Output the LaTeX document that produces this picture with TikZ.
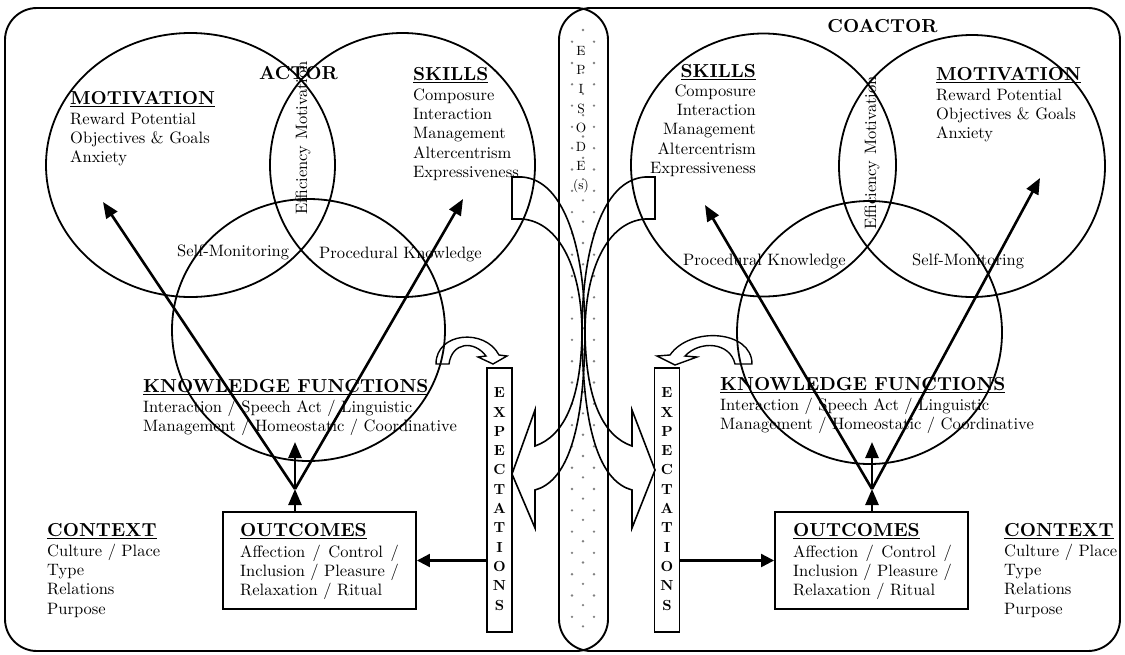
\documentclass[tikz,border=0pt]{standalone}
\usepackage{fontspec}
\setmainfont{lmroman10-regular.otf}[BoldFont=lmroman10-bold.otf, ItalicFont=lmroman10-italic.otf]
\usetikzlibrary{arrows.meta,shapes.geometric}

\newcommand\hdfont{\fontsize{18.8}{22}\selectfont\bfseries}
\newcommand\bdfont{\fontsize{16.5}{19.3}\selectfont}
\newcommand\lxfont{\fontsize{14.6}{19.3}\selectfont\bfseries}
\newcommand\epfont{\fontsize{13.4}{19.2}\selectfont}
\newcommand\ulhead[1]{\vtop{\hbox{#1}\kern1.4pt\hrule height 1.6pt}}
\newlength\rowwd

\begin{document}
\begin{tikzpicture}[x=1pt,y=-1pt,
  panel/.style={line width=1.9pt, rounded corners=32pt},
  ring/.style={ellipse, draw, line width=1.8pt, inner sep=0pt},
  link/.style={line width=2.6pt, -{Triangle[length=16pt,width=13pt]}},
  feed/.style={line width=2.2pt, -{Triangle[length=13pt,width=13pt]}},
  boxed/.style={draw, line width=1.9pt, inner sep=0pt},
  sweep/.style={line width=1.6pt, line join=miter},
  head/.style={inner sep=0pt, font=\hdfont, anchor=base west},
  list/.style={inner sep=0pt, font=\bdfont, align=left, anchor=north west},
  tag/.style={inner sep=0pt, font=\bdfont, anchor=base west},
  upright/.style={inner sep=0pt, font=\bdfont, rotate=90, anchor=west},
  letters/.style={boxed, line width=1.6pt, minimum width=25pt, minimum height=264pt, font=\lxfont, align=center}
]
\useasboundingbox (0,0) rectangle (1125,654);
\fill[white] (0,0) rectangle (1125,654);

% two panels; their overlap forms the episode column
\draw[panel] (5,8) rectangle (608,651);
\draw[panel] (559,8) rectangle (1120,651);

% dotted fill of the episode column
\foreach \k in {0,...,27} {
  \fill[black!50] (572,41.7+21.3*\k) circle[radius=1.3pt];
  \fill[black!50] (594,41.7+21.3*\k) circle[radius=1.3pt];
}
\foreach \k in {0,...,28} {
  \fill[black!50] (583,30+21.3*\k) circle[radius=1.3pt];
}
\node[inner sep=0pt, font=\epfont, align=center, anchor=north] (episode) at (581,41.9)
  {\strut E\\\strut P\\\strut I\\\strut S\\\strut O\\\strut D\\\strut E\\\strut (s)};

% actor circles
\node[ring, minimum width=289pt, minimum height=264pt] (lmot) at (190.5,165) {};
\node[ring, minimum width=265pt, minimum height=264pt] (lski) at (402.5,165) {};
\node[ring, minimum width=273pt, minimum height=262pt] (lkno) at (308.5,330) {};
% coactor circles
\node[ring, minimum width=265pt, minimum height=263pt] (rski) at (763.5,165) {};
\node[ring, minimum width=266pt, minimum height=262pt] (rmot) at (972,166) {};
\node[ring, minimum width=265pt, minimum height=263pt] (rkno) at (869.5,332.5) {};

% outcome boxes
\node[boxed, minimum width=193pt, minimum height=97pt] (lout) at (319.5,560.5) {};
\node[boxed, minimum width=193pt, minimum height=97pt] (rout) at (871.5,560.5) {};

% expectation columns
\node[letters] (lexp) at (499.5,500)
  {\strut E\\\strut X\\\strut P\\\strut E\\\strut C\\\strut T\\\strut A\\\strut T\\\strut I\\\strut O\\\strut N\\\strut S};
\node[letters] (rexp) at (667,500)
  {\strut E\\\strut X\\\strut P\\\strut E\\\strut C\\\strut T\\\strut A\\\strut T\\\strut I\\\strut O\\\strut N\\\strut S};

% arrow junctions and tips
\coordinate (lvert) at (295,489);
\coordinate (lmtip) at (103,202);
\coordinate (lstip) at (463,199);
\coordinate (lktip) at (295,442);
\coordinate (rvert) at (872,489);
\coordinate (rstip) at (705,205);
\coordinate (rmtip) at (1040,178);
\coordinate (rktip) at (872,442);

\draw[link] (lvert) -- (lmtip);
\draw[link] (lvert) -- (lstip);
\draw[link] (lvert) -- (lktip);
\draw[link] (lvert |- lout.north) -- (lvert);
\draw[link] (rvert) -- (rstip);
\draw[link] (rvert) -- (rmtip);
\draw[link] (rvert) -- (rktip);
\draw[link] (rvert |- rout.north) -- (rvert);

\draw[feed] (lexp.west |- lout.east) -- (lout.east);
\draw[feed] (rexp.east |- rout.west) -- (rout.west);

% skills of each side bending across the episode into the other side's expectations
\draw[sweep] (512,177) -- (522,177) .. controls (565,180) and (585,250) .. (585,333)
  .. controls (586,400) and (603,436) .. (632,446) -- (632,410) -- (655,470) -- (632,528) -- (632,490)
  .. controls (603,482) and (583,440) .. (582,333) .. controls (582,270) and (560,222) .. (522,219)
  -- (512,219) -- cycle;
\draw[sweep] (655,177) -- (645,177) .. controls (602,180) and (582,250) .. (582,333)
  .. controls (581,400) and (564,436) .. (535,446) -- (535,410) -- (512,474) -- (535,528) -- (535,490)
  .. controls (564,482) and (584,440) .. (585,333) .. controls (585,270) and (607,222) .. (645,219)
  -- (655,219) -- cycle;

% small curved arrows from knowledge into expectations
\draw[sweep, line width=1.4pt] (436,364) .. controls (436,332) and (485,328) .. (499,355)
  -- (507,356) -- (493,364) -- (478,357) -- (486,356)
  .. controls (474,340) and (452,342) .. (449,364) -- cycle;
\draw[sweep, line width=1.4pt] (752,364) .. controls (752,330) and (690,326) .. (670,355)
  -- (657,356) -- (675,365) -- (697,357) -- (685,356)
  .. controls (700,340) and (730,342) .. (735,364) -- cycle;

% ---- actor texts ----
\node[head, anchor=base] (actor) at (298.5,79) {ACTOR};
\node[head] (lmoth) at (70,104) {\ulhead{MOTIVATION}};
\node[list] (lmotl) at (70,110.4) {\strut Reward Potential\\\strut Objectives \& Goals\\\strut Anxiety};
\node[head] (lskih) at (413,80) {\ulhead{SKILLS}};
\node[list] (lskil) at (413,86.5)
  {\strut Composure\\\strut Interaction\\\strut Management\\\strut Altercentrism\\\strut Expressiveness};
\node[upright] (leff) at (303,215) {Efficiency Motivation};
\node[tag] (lsm) at (177,256) {Self-Monitoring};
\node[tag] (lpk) at (319,258) {Procedural Knowledge};
\node[head] (lkfh) at (143,392) {\ulhead{KNOWLEDGE FUNCTIONS}};
\node[list] (lkfl) at (143,398.7)
  {\strut Interaction / Speech Act / Linguistic\\\strut Management / Homeostatic / Coordinative};
\node[head] (louth) at (240,536) {\ulhead{OUTCOMES}};
\node[list] (loutl) at (240,543.4)
  {\settowidth\rowwd{Inclusion / Pleasure /}\strut\makebox[\rowwd][s]{Affection / Control /}\\\strut Inclusion / Pleasure /\\\strut Relaxation / Ritual};
\node[head] (lctxh) at (47,536) {\ulhead{CONTEXT}};
\node[list] (lctxl) at (47,542.5) {\strut Culture / Place\\\strut Type\\\strut Relations\\\strut Purpose};

% ---- coactor texts ----
\node[head, anchor=base] (coactor) at (882.5,32) {COACTOR};
\node[head, anchor=base east] (rskih) at (756,77) {\ulhead{SKILLS}};
\node[list, align=right, anchor=north east] (rskil) at (756,82.5)
  {\strut Composure\\\strut Interaction\\\strut Management\\\strut Altercentrism\\\strut Expressiveness};
\node[head] (rmoth) at (936,80) {\ulhead{MOTIVATION}};
\node[list] (rmotl) at (936,86.4) {\strut Reward Potential\\\strut Objectives \& Goals\\\strut Anxiety};
\node[upright] (reff) at (872,230) {Efficiency Motivation};
\node[tag] (rpk) at (683,265) {Procedural Knowledge};
\node[tag] (rsm) at (912,265) {Self-Monitoring};
\node[head] (rkfh) at (720,390) {\ulhead{KNOWLEDGE FUNCTIONS}};
\node[list] (rkfl) at (720,396.7)
  {\strut Interaction / Speech Act / Linguistic\\\strut Management / Homeostatic / Coordinative};
\node[head] (routh) at (793,536) {\ulhead{OUTCOMES}};
\node[list] (routl) at (793,543.4)
  {\settowidth\rowwd{Inclusion / Pleasure /}\strut\makebox[\rowwd][s]{Affection / Control /}\\\strut Inclusion / Pleasure /\\\strut Relaxation / Ritual};
\node[head] (rctxh) at (1004,536) {\ulhead{CONTEXT}};
\node[list] (rctxl) at (1004,542.5) {\strut Culture / Place\\\strut Type\\\strut Relations\\\strut Purpose};
\end{tikzpicture}
\end{document}
